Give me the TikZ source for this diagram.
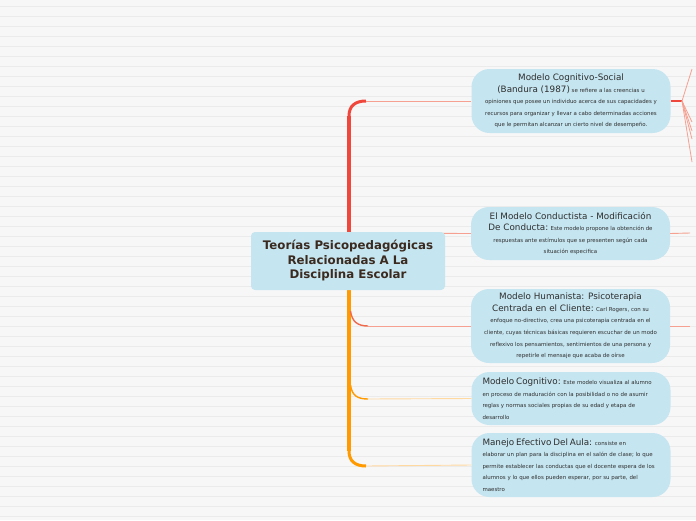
\documentclass[tikz,border=0pt]{standalone}
\usepackage{fontspec}
\setmainfont{DejaVu Sans}
\definecolor{bg}{HTML}{F7F7F7}
\definecolor{stripe}{HTML}{EBEBEB}
\definecolor{boxblue}{HTML}{C5E5F0}
\definecolor{boxtext}{HTML}{2E2E2E}
\definecolor{maintext}{HTML}{3B2A1F}
\definecolor{trunkred}{HTML}{F0473C}
\definecolor{trunkorange}{HTML}{FF9A00}
\definecolor{salmon}{HTML}{F5A090}
\definecolor{redthin}{HTML}{EF6A4C}
\definecolor{lightorange}{HTML}{FFD9A0}
\newcommand{\T}{\fontsize{8.8}{11.6}\selectfont}
\tikzset{
  topic/.style={fill=boxblue, rounded corners=18pt, minimum width=199pt, text=boxtext,
     font=\fontsize{5.45}{11.6}\selectfont, inner sep=0pt},
  central/.style={fill=boxblue, rounded corners=4pt, minimum width=194pt, minimum height=58pt,
     text=maintext, font=\fontsize{11.8}{14.5}\selectfont\bfseries, align=center, inner sep=0pt},
  branchthin/.style={line width=0.9pt},
}
\begin{document}
\begin{tikzpicture}[x=1pt,y=-1pt]
\useasboundingbox (0,0) rectangle (696,520);
\fill[bg] (0,0) rectangle (696,520);
\foreach \k in {0,...,51} {\draw[stripe, line width=0.8pt] (0,6+10*\k) -- (696,6+10*\k);}

% coordinates
\coordinate (t1) at (349,116);
\coordinate (h1) at (366,101);
\coordinate (t2) at (349,233);
\coordinate (t3) at (350.5,311);
\coordinate (h3) at (368,326);
\coordinate (t4) at (350.5,385);
\coordinate (h4) at (368,399);
\coordinate (t5) at (349,451);
\coordinate (h5) at (366,466);
\coordinate (tm) at (349,262);
\coordinate (f0) at (682,101);
\coordinate (e2) at (690,233);
\coordinate (e3) at (690,326);

% boxes
\node[topic, minimum height=64pt, align=center] (b1) at (571,101)
 {{\T Modelo Cognitivo-Social}\\
  {\T (Bandura (1987)} se refiere a las creencias u\\
  opiniones que posee un individuo acerca de sus capacidades y\\
  recursos para organizar y llevar a cabo determinadas acciones\\
  que le permitan alcanzar un cierto nivel de desempeño.};
\node[topic, minimum height=53pt, align=center] (b2) at (570.5,233.5)
 {{\T El Modelo Conductista - Modificación}\\
  {\T De Conducta:} Este modelo propone la obtención de\\
  respuestas ante estímulos que se presenten según cada\\
  situación especifica};
\node[topic, minimum height=74pt, align=center] (b3) at (570.5,326)
 {{\T Modelo Humanista: Psicoterapia}\\
  {\T Centrada en el Cliente:} Carl Rogers, con su\\
  enfoque no-directivo, crea una psicoterapia centrada en el\\
  cliente, cuyas técnicas básicas requieren escuchar de un modo\\
  reflexivo los pensamientos, sentimientos de una persona y\\
  repetirle el mensaje que acaba de oírse};
\node[topic, minimum height=53pt, text width=177pt, align=left] (b4) at (571,398.5)
 {{\T Modelo Cognitivo:} Este modelo visualiza al alumno\\
  en proceso de maduración con la posibilidad o no de asumir\\
  reglas y normas sociales propias de su edad y etapa de\\
  desarrollo};
\node[topic, minimum height=64pt, text width=177pt, align=left] (b5) at (571,465)
 {{\T Manejo Efectivo Del Aula:} consiste en\\
  elaborar un plan para la disciplina en el salón de clase; lo que\\
  permite establecer las conductas que el docente espera de los\\
  alumnos y lo que ellos pueden esperar, por su parte, del\\
  maestro};

% connectors
\draw[salmon, branchthin] (t2) -- (b2.west);
\draw[salmon, branchthin] (b2.east) -- (e2);
\draw[salmon, branchthin] (b3.east) -- (e3);
% trunk
\draw[trunkred, line width=4.5pt] (t1) -- (tm);
\draw[trunkorange, line width=4.5pt] (tm) -- (t5);
\draw[trunkred, line width=3pt] (t1) .. controls (349,106) and (355,101) .. (h1);
\draw[salmon, branchthin] (h1) -- (b1.west);
\draw[redthin, line width=1.4pt] (t3) .. controls (352,322) and (358,326) .. (h3);
\draw[salmon, branchthin] (h3) -- (b3.west);
\draw[trunkorange, line width=1.4pt] (t4) .. controls (352,396) and (358,399) .. (h4);
\draw[lightorange, branchthin] (h4) -- (b4.west);
\draw[trunkorange, line width=3pt] (t5) .. controls (349,461) and (355,466) .. (h5);
\draw[lightorange, branchthin] (h5) -- (b5.west);
% fan at right of box 1
\draw[trunkred, line width=1.2pt] (b1.east) -- (f0);
\foreach \y in {69,122,131,139,162} {\draw[salmon, line width=0.8pt] (f0) -- (692,\y);}

\node[central] (c) at (348,261) {Teorías Psicopedagógicas\\Relacionadas A La\\Disciplina Escolar};
\end{tikzpicture}
\end{document}
